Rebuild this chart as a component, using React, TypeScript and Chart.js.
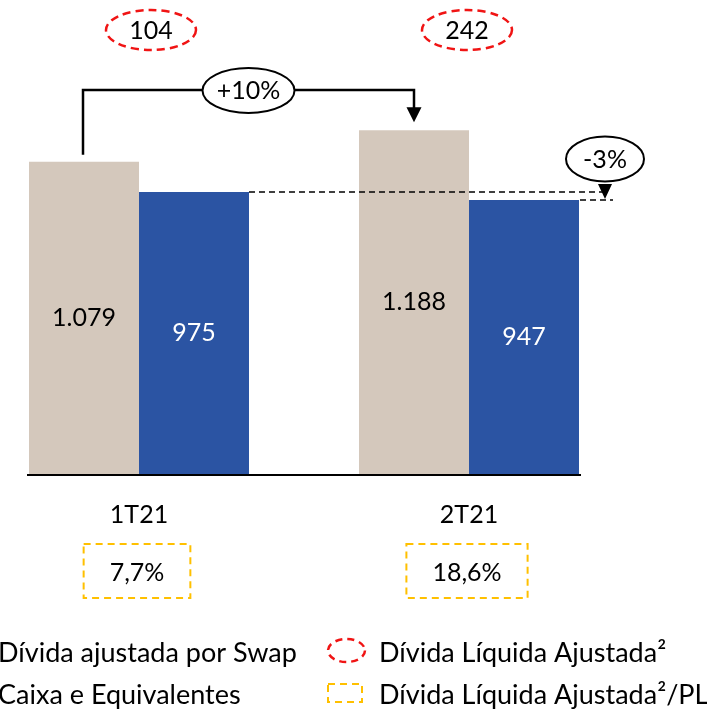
import React, { useEffect, useRef } from "react";
import { Chart, registerables } from "chart.js";

Chart.register(...registerables);

// ---- data ----
const categories = ["1T21", "2T21"];
const dividaSwap = [1079, 1188];
const caixaEquivalentes = [975, 947];
const dividaLiquidaAjustada = [104, 242];
const dividaLiquidaPL = ["7,7%", "18,6%"];
const variacaoDivida = "+10%";
const variacaoCaixa = "-3%";
const seriesNames = ["Dívida ajustada por Swap", "Caixa e Equivalentes"];
const annotationNames = ["Dívida Líquida Ajustada²", "Dívida Líquida Ajustada²/PL"];

// ---- style ----
const BEIGE = "#D4C8BC";
const BLUE = "#2B54A3";
const RED = "#F01414";
const YELLOW = "#FFC000";
const FONT = "Lato, 'Open Sans', sans-serif";
const FS = 25;
const LEG_FS = 27;
const OFFX = 80; // canvas shifted left so the left legend markers fall off-page
const CW = 707 + OFFX;
const CH = 713;

const fmt = (v: number) => String(v).replace(/\B(?=(\d{3})+(?!\d))/g, ".");

const annotationsPlugin = {
  id: "annotationsPlugin",
  afterDatasetsDraw(chart: any) {
    const ctx: CanvasRenderingContext2D = chart.ctx;
    const xs = chart.scales.x;
    const ys = chart.scales.y;
    const top = chart.chartArea.top;
    const d0 = chart.getDatasetMeta(0).data;
    const d1 = chart.getDatasetMeta(1).data;
    const y0 = ys.getPixelForValue(0);
    ctx.save();

    // baseline
    ctx.strokeStyle = "#000";
    ctx.lineWidth = 2;
    ctx.beginPath();
    ctx.moveTo(d0[0].x - d0[0].width / 2 - 2, y0 + 1);
    ctx.lineTo(d1[1].x + d1[1].width / 2 + 2, y0 + 1);
    ctx.stroke();

    // bar value labels
    ctx.font = `${FS}px ${FONT}`;
    ctx.textAlign = "center";
    ctx.textBaseline = "middle";
    [d0, d1].forEach((els: any[], di: number) => {
      const vals = di === 0 ? dividaSwap : caixaEquivalentes;
      ctx.fillStyle = di === 0 ? "#000" : "#fff";
      els.forEach((el: any, i: number) => {
        ctx.fillText(fmt(vals[i]), el.x, (el.y + el.base) / 2);
      });
    });

    // red dashed ellipses (dívida líquida ajustada)
    const netDx = [12, -2];
    dividaLiquidaAjustada.forEach((v, i) => {
      const cx = xs.getPixelForValue(i) + netDx[i];
      const cy = top - 10;
      ctx.setLineDash([8, 5]);
      ctx.strokeStyle = RED;
      ctx.lineWidth = 2.5;
      ctx.beginPath();
      ctx.ellipse(cx, cy, 45, 20, 0, 0, Math.PI * 2);
      ctx.stroke();
      ctx.setLineDash([]);
      ctx.fillStyle = "#000";
      ctx.fillText(String(v), cx, cy + 1);
    });

    // +10% connector
    const x1 = d0[0].x - 1;
    const x2 = d0[1].x;
    const yl = top + 50;
    const tip = d0[1].y - 8;
    ctx.strokeStyle = "#000";
    ctx.lineWidth = 2.5;
    ctx.beginPath();
    ctx.moveTo(x1, d0[0].y - 7);
    ctx.lineTo(x1, yl);
    ctx.lineTo(x2, yl);
    ctx.lineTo(x2, tip - 14);
    ctx.stroke();
    ctx.fillStyle = "#000";
    ctx.beginPath();
    ctx.moveTo(x2 - 7.5, tip - 15);
    ctx.lineTo(x2 + 7.5, tip - 15);
    ctx.lineTo(x2, tip);
    ctx.closePath();
    ctx.fill();
    const ex = (x1 + x2) / 2;
    ctx.fillStyle = "#fff";
    ctx.lineWidth = 2;
    ctx.beginPath();
    ctx.ellipse(ex, yl + 0.5, 46, 22.5, 0, 0, Math.PI * 2);
    ctx.fill();
    ctx.stroke();
    ctx.fillStyle = "#000";
    ctx.fillText(variacaoDivida, ex, yl + 1);

    // -3% dashed comparison
    const r1 = d1[0].x + d1[0].width / 2;
    const r2 = d1[1].x + d1[1].width / 2;
    const ax = r2 + 26;
    ctx.setLineDash([6, 4]);
    ctx.lineWidth = 1.5;
    ctx.beginPath();
    ctx.moveTo(r1, d1[0].y);
    ctx.lineTo(ax + 3, d1[0].y);
    ctx.moveTo(r2 + 1, d1[1].y);
    ctx.lineTo(ax + 8, d1[1].y);
    ctx.stroke();
    ctx.setLineDash([]);
    ctx.beginPath();
    ctx.moveTo(ax - 7, d1[1].y - 16);
    ctx.lineTo(ax + 7, d1[1].y - 16);
    ctx.lineTo(ax, d1[1].y - 1);
    ctx.closePath();
    ctx.fill();
    ctx.fillStyle = "#fff";
    ctx.lineWidth = 2;
    ctx.beginPath();
    ctx.ellipse(ax, d1[1].y - 41, 39, 22.5, 0, 0, Math.PI * 2);
    ctx.fill();
    ctx.stroke();
    ctx.fillStyle = "#000";
    ctx.fillText(variacaoCaixa, ax, d1[1].y - 40);

    // yellow dashed boxes (dívida líquida / PL)
    dividaLiquidaPL.forEach((t, i) => {
      const cx = xs.getPixelForValue(i) - 2;
      const w = ctx.measureText(t).width + 52;
      ctx.setLineDash([7, 5]);
      ctx.strokeStyle = YELLOW;
      ctx.lineWidth = 2;
      ctx.strokeRect(cx - w / 2, y0 + 70, w, 54);
      ctx.setLineDash([]);
      ctx.fillStyle = "#000";
      ctx.fillText(t, cx, y0 + 99);
    });

    // legend
    const rows = [653, 695];
    ctx.font = `${LEG_FS}px ${FONT}`;
    ctx.textAlign = "left";
    const lx = OFFX - 2;
    const rx = OFFX + 379;
    seriesNames.forEach((n, i) => {
      ctx.fillStyle = i === 0 ? BEIGE : BLUE;
      ctx.fillRect(lx - 48, rows[i] - 12, 30, 24);
      ctx.fillStyle = "#000";
      ctx.fillText(n, lx, rows[i]);
    });
    // red ellipse marker
    ctx.setLineDash([7, 5]);
    ctx.strokeStyle = RED;
    ctx.lineWidth = 2.5;
    ctx.beginPath();
    ctx.ellipse(OFFX + 346.5, 650.5, 18.5, 11.5, 0, 0, Math.PI * 2);
    ctx.stroke();
    // yellow square marker
    ctx.strokeStyle = YELLOW;
    ctx.lineWidth = 2;
    ctx.setLineDash([7, 5]);
    ctx.strokeRect(OFFX + 328, 684, 34, 18);
    ctx.setLineDash([]);
    ctx.fillStyle = "#000";
    annotationNames.forEach((n, i) => ctx.fillText(n, rx, rows[i]));

    ctx.restore();
  },
};

export default function App() {
  const ref = useRef<HTMLCanvasElement | null>(null);
  useEffect(() => {
    if (!ref.current) return;
    const chart = new Chart(ref.current, {
      type: "bar",
      data: {
        labels: categories,
        datasets: [
          {
            label: seriesNames[0],
            data: dividaSwap,
            backgroundColor: BEIGE,
            categoryPercentage: 220 / 330,
            barPercentage: 1,
          },
          {
            label: seriesNames[1],
            data: caixaEquivalentes,
            backgroundColor: BLUE,
            categoryPercentage: 220 / 330,
            barPercentage: 1,
          },
        ],
      },
      options: {
        responsive: false,
        animation: false,
        devicePixelRatio: 1,
        layout: { padding: { left: OFFX - 26, right: CW - (OFFX + 634), top: 40, bottom: 157 } },
        plugins: { legend: { display: false }, tooltip: { enabled: false } },
        scales: {
          x: {
            offset: true,
            grid: { display: false, drawTicks: false },
            border: { display: false },
            ticks: { color: "#000", padding: 26, font: { family: FONT, size: FS } },
          },
          y: { display: false, min: 0, max: 1500 },
        },
      },
      plugins: [annotationsPlugin],
    });
    return () => chart.destroy();
  }, []);
  return (
    <div style={{ position: "fixed", left: -OFFX, top: 0, width: CW, height: CH, background: "#fff" }}>
      <canvas ref={ref} width={CW} height={CH} style={{ width: CW, height: CH }} />
    </div>
  );
}
